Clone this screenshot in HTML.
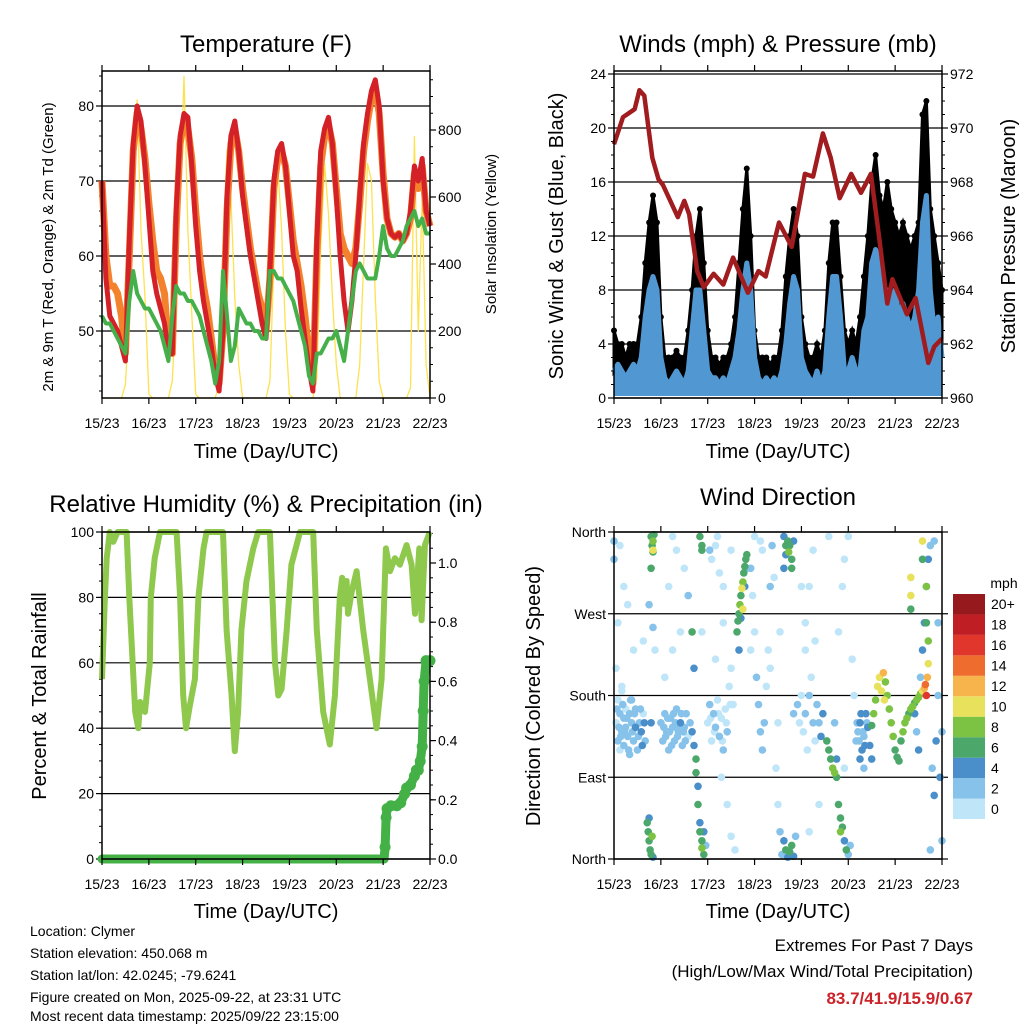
<!DOCTYPE html>
<html><head><meta charset="utf-8"><style>
html,body{margin:0;padding:0;background:#fff;}
svg{display:block;font-family:"Liberation Sans",Arial,sans-serif;}
</style></head><body>
<svg id="c" width="1024" height="1024" viewBox="0 0 1024 1024" xmlns="http://www.w3.org/2000/svg">
<rect x="0" y="0" width="1024" height="1024" fill="#fff"/>
<text x="266" y="52" font-size="24" text-anchor="middle">Temperature (F)</text>
<text x="778" y="52" font-size="24" text-anchor="middle">Winds (mph) &amp; Pressure (mb)</text>
<text x="266" y="512" font-size="24" text-anchor="middle">Relative Humidity (%) &amp; Precipitation (in)</text>
<text x="778" y="505" font-size="24" text-anchor="middle">Wind Direction</text>
<text x="266" y="458" font-size="20" text-anchor="middle">Time (Day/UTC)</text>
<text x="778" y="458" font-size="20" text-anchor="middle">Time (Day/UTC)</text>
<text x="266" y="918" font-size="20" text-anchor="middle">Time (Day/UTC)</text>
<text x="778" y="918" font-size="20" text-anchor="middle">Time (Day/UTC)</text>
<text transform="translate(53,247) rotate(-90)" font-size="15" text-anchor="middle">2m &amp; 9m T (Red, Orange) &amp; 2m Td (Green)</text>
<text transform="translate(496,234) rotate(-90)" font-size="15" text-anchor="middle">Solar Insolation (Yellow)</text>
<text transform="translate(563,236) rotate(-90)" font-size="20" text-anchor="middle">Sonic Wind &amp; Gust (Blue, Black)</text>
<text transform="translate(1015,236) rotate(-90)" font-size="20" text-anchor="middle">Station Pressure (Maroon)</text>
<text transform="translate(46,696) rotate(-90)" font-size="20" text-anchor="middle">Percent &amp; Total Rainfall</text>
<text transform="translate(540,696) rotate(-90)" font-size="20" text-anchor="middle">Direction (Colored By Speed)</text>
<g font-size="14">
<text x="30" y="936">Location: Clymer</text>
<text x="30" y="958">Station elevation: 450.068 m</text>
<text x="30" y="980">Station lat/lon: 42.0245; -79.6241</text>
<text x="30" y="1002">Figure created on Mon, 2025-09-22, at 23:31 UTC</text>
<text x="30" y="1024" dy="-3">Most recent data timestamp: 2025/09/22 23:15:00</text>
</g>
<text x="973" y="951" font-size="17" text-anchor="end">Extremes For Past 7 Days</text>
<text x="973" y="977" font-size="17" text-anchor="end">(High/Low/Max Wind/Total Precipitation)</text>
<text x="973" y="1004" font-size="17" font-weight="bold" fill="#cc2229" text-anchor="end">83.7/41.9/15.9/0.67</text>
</svg>
<script>
// ---------- DATA ----------
const dayLabels = ["15/23","16/23","17/23","18/23","19/23","20/23","21/23","22/23"];
// 2-hourly series, h = 0..168
const tempRed = [70,57,52,51,50,48,46,62,75,80, 78,72,65,58,55,53,51,47,47,66, 76,79,78.5,72,64,58,54,51,48,44, 42,50,68,76,78,74,68,64,60,57, 54,51,49,58,70,74,75,72,66,60, 58,53,49,45,42,62,74,77,78.5,75, 68,60,54,50,54,60,68,75,79,82, 83.5,80,70,65,63,62.5,63,62,63,66, 72,70,73,66,64];
const tempOrange = [70,60,56,56,55,52,47,60,74,79, 77,73,67,62,58,57,55,48,47,64, 75,78,77,73,66,60,56,53,49,45, 43,50,66,75,77,74,69,65,61,58, 55,53,50,57,69,73,74,72,67,62, 59,56,52,47,43,60,72,76,77.5,75, 69,63,61,60,59,61,67,74,78,81, 82.5,79,71,65,63,62.5,63,62,63,65, 71,69,72,66,64];
const dewGreen = [52,51,51,50,49,48,47,54,58,55, 54,53,53,52,51,50,48,46,52,56, 55,55,54,54,53,52,50,48,46,43, 46,58,52,46,48,53,52,51,51,50, 50,49,49,58,58,57,57,56,55,54, 52,50,48,44,43,47,47,48,49,49, 50,48,46,50,54,58,59,58,57,57, 57,60,64,61,60,60,61,62,64,65, 66,64,65,63,63];
const solar = [0,0,0,0,0,0,40,250,600,890, 500,300,10,0,0,0,0,0,50,300, 600,960,500,250,10,0,0,0,0,0, 40,450,740,600,300,100,0,0,0,0, 0,0,0,50,400,700,500,200,10,0, 0,0,0,0,0,60,450,700,550,300, 100,0,0,0,0,0,100,400,700,650, 300,50,0,0,0,0,0,0,0,30, 780,200,600,100,0];
const windSpeed = [2,2.5,2,1.5,2,2.5,2,3,6,8, 9,8,3,1.5,1,1.5,2,1.5,1,2, 5,8,8,5,2,1.5,1.5,1,1.5,1, 2,3,5,8,10,8,3,1.5,1,1.5, 1,1.5,1,2,4,7,9,8,3,2, 1.5,1,2,1,2,6,9,9,6,2, 2,3,2,2,5,6,10,11,10,8, 8,7,8,6,7,6,5,6,8,13, 15,8,5,6,3];
const windGust = [5,4,4,3,4,4,4,6,10,13, 15,13,6,3,3,3,3.5,3,3,5, 8,12,14,10,5,3,3,2.5,3,3, 4,6,10,14,17,12,5,3,3,3, 2.5,3,3,5,9,12,14,12,6,4, 3,3,4,3,5,10,13,13,9,5, 4,5,4,6,9,12,16,18,15,14, 16,14,13,12,13,12,11,12,13,21, 22,14,12,10,8];
const presHours = [0,4.6,10.6,13,15.5,19.6,22.8,25,32.7,36,38.5,42.6,46,51,56,61,68.6,74,77.7,84.5,91,97.8,102,107,111,115.6,121.5,126.5,131.6,135.9,140,142.6,150,154.5,161,164,168];
const presValues = [969.4,970.4,970.7,971.4,971.2,968.9,968.1,967.9,966.7,967.3,966.8,964.7,964.1,964.6,964.2,965.2,963.9,964.7,964.5,966.5,965.6,968.3,968.2,969.8,968.9,967.4,968.3,967.6,968.3,965.9,963.5,964.4,963.1,963.7,961.3,961.9,962.2];
const rhHours = [0,1.5,2.4,4,5.8,8,12.6,14,17,18.6,19.5,22,24.5,25,27,29.7,38.2,40,41.6,43,45,47.6,49.4,52,53.6,62,63.8,66.4,68,69.7,71.4,74,77.5,80,86,88.6,90.3,92,94.6,97,101.4,108.2,110,113.3,116.7,119.3,121.8,123,124,125.3,126,128,130.4,133.8,137.2,140.6,143.2,145.4,147.5,150,152.6,156,158.6,160.3,162.5,163.7,165.4,167.9];
const rhValues = [55,80,92,100,97,100,100,80,45,40,48,45,60,80,92,100,100,80,50,40,47,55,80,95,100,100,70,50,33,45,70,85,95,100,100,60,50,52,70,90,100,100,70,45,35,50,80,86,78,85,75,82,88,70,55,40,55,95,88,92,90,96,90,75,95,73,96,100];
const rainHours = [0,144.5,145,145.5,146,148,151,153,155,156,158,160,161,162,163,164,164.5,165,166,168];
const rainValues = [0,0,0.04,0.14,0.17,0.18,0.18,0.19,0.22,0.24,0.25,0.28,0.30,0.30,0.33,0.38,0.50,0.60,0.67,0.67];
const dirTime = [1,2,2,3,3,4,4,5,5,6,6,7,8,8,9,9,10,11,11,12,13,14,15,16, 0,0,3,5,7,10,1,2,4,
 19,19.5,20,20,20.5,19,20, 17,17.5,18,18.5,19,19.5,18,20, 19,18,20,21,
 24,25,26,27,28,29,30,31,32,33,34,35,36,37,38,39, 26,30,34,28,32,38,36,
 40,41,42,42,43,43,44,44,45,45,46,46,47, 44,45,45,40,41,
 48,49,50,51,52,53,54,55,56,57,58,59,60,61, 50,52,54,56,49,53,58,60,62,55,
 63,63.5,64,64.5,65,65.5,66,66.5,67,67.5,68,66,65,67,68,64,
 70,71,72,73,74,75,76,77,78,79,80,81,82,83,84,85,86,72,76,80,84,
 87,88,89,89.5,90,91,91,92,87,88, 87,88,89,90,91,92,93, 92,94,95,96,
 97,98,99,100,101,102,103,104,105,106,107,98,100,103,105,100,
 109,110,111,112,113,114,115,116,117,118,119,116,114,113,120,121,118,
 115,117,118,120,122,123,124,125,126,127,128,129,130,131,126,128,132,
 132,133,134,135,136,137,138,138.5,139,140,141,142,143,144,145,146,147,148,149,150,151,152,153,154,155,156,157,158,159,159.5,160,160.5,161,161,160,160,158,158,152,152,152,
 154,155,156,157,158,159,160,161,162,163,164,165,166,167,168,164,166,162,168,
 1.5,2.5,3.5,4.5,5.5,6.5,7.5,8.5,9.5,10.5,12.5,13.5,14.5,15.5,
 25.5,26.5,27.5,28.5,29.5,30.5,31.5,32.5,33.5,34.5,35.5,36.5,
 49.5,51.5,53.5,55.5,57.5,59.5,52,56,
 124.5,125.5,126.5,127.5,128.5,129.5,
 30,60,75,96,102,110,85,45,15,70,98];
const dirDeg = [150,130,175,160,120,140,185,155,125,165,145,135,160,115,150,175,130,145,165,120,150,140,160,130, 350,330,345,300,280,230,210,260,190,
 355,345,350,338,357,320,340, 40,30,20,10,5,25,45,2, 150,280,255,230,
 150,130,160,140,120,155,145,130,165,140,150,125,145,160,135,150, 200,230,250,300,340,290,320,
 140,125,110,95,80,60,40,30,20,12,5,30,15, 355,345,340,250,210,
 150,170,130,160,145,175,135,155,120,165,140,190,210,170, 330,345,315,300,340,355,60,25,10,90,
 250,262,270,280,290,298,305,315,322,330,335,275,265,300,320,230,
 320,290,250,200,170,140,120,150,190,230,300,345,310,100,60,30,5,355,340,210,150,
 355,345,350,338,345,330,320,350,320,335, 20,10,2,8,15,3,25, 160,170,150,180,
 140,160,120,180,200,150,130,170,150,135,160,260,300,240,60,30,
 130,120,110,100,95,90,60,45,35,20,10,30,110,150,5,15,100,
 250,300,330,355,220,180,130,140,150,120,135,160,145,125,110,100,110,
 147,160,175,190,200,185,205,175,195,180,165,150,135,120,112,108,130,140,150,155,160,165,168,172,175,178,182,185,188,192,180,200,215,240,260,300,330,350,310,290,275,
 160,140,120,200,230,260,300,330,345,100,70,130,180,90,140,350,260,10,20,
 165,145,135,170,140,155,120,175,140,160,135,165,125,150,
 145,135,155,140,125,160,150,135,145,160,140,130,
 155,140,160,130,150,170,220,260,
 150,130,160,140,125,150,
 355,340,350,300,340,355,250,250,240,230,230];
const dirSpeed = [1,2,1,2,1,2,1,2,2,1,2,2,3,2,3,2,3,4,3,2,3,4,1,2, 2,3,1,1,1,1,1,1,1,
 6,7,8,7,6,7,10, 7,6,7,6,7,8,5,4, 4,2,2,1,
 2,2,3,2,3,2,3,2,3,2,4,3,2,2,1,2, 1,1,1,1,1,2,1,
 5,4,6,6,5,6,4,6,7,8,6,4,3, 6,7,6,6,4,
 1,2,1,2,2,1,2,1,2,1,2,1,1,1, 1,1,1,1,2,1,1,1,1,1,
 6,7,6,8,7,10,8,7,6,7,6,10,4,4,3,4,
 2,1,1,2,3,3,2,2,1,1,2,3,1,1,1,2,3,1,1,1,1,
 4,6,7,8,7,6,6,5,4,4, 4,6,5,6,7,4,3, 2,2,1,1,
 1,2,1,2,1,2,1,2,3,4,4,1,1,1,1,1,
 6,7,6,8,9,7,7,6,6,5,6,8,4,3,3,2,1,
 1,1,1,1,1,1,2,3,4,4,3,4,5,5,4,2,4,
 7,8,8,10,10,11,12,10,8,9,8,8,8,7,7,6,7,8,9,8,7,8,8,7,8,9,8,10,12,14,17,12,10,8,6,9,6,10,10,11,6,
 4,3,4,3,4,4,5,4,3,3,5,4,3,4,3,2,3,2,2,
 2,3,2,3,3,2,3,2,2,2,3,3,4,4,
 3,2,3,2,3,2,3,2,3,2,3,2,
 1,1,1,1,1,1,1,1,
 3,3,4,3,4,3,
 1,1,1,1,1,1,1,1,1,1,1];
const speedBins = ["0","2","4","6","8","10","12","14","16","18","20+"];
const speedColors = ["#bfe5f9","#86c2ea","#4a8fc9","#4ba86a","#7cc243","#e8e15c","#f7b44c","#ef6c2f","#e0362b","#c01e25","#961a1d"];

// ---------- HELPERS ----------
const NS = "http://www.w3.org/2000/svg";
const svg = document.getElementById("c");
function el(tag, attrs, parent) {
  const e = document.createElementNS(NS, tag);
  for (const k in attrs) e.setAttribute(k, attrs[k]);
  (parent || svg).appendChild(e);
  return e;
}
function hx(L, h) { return L + h / 168 * 328; }
const T1 = v => 106 + (80 - v) * 7.5;
const S1 = v => 398 - v * 0.335;
const W2 = v => 398 - v * 13.5;
const P2 = v => 398 - (v - 960) * 27;
const R3 = v => 859 - v * 3.27;
const Pr3 = v => 859 - v * 296;
const D4 = v => 859 - v * 327 / 360;

function frame(L, T, name) {
  const g = el("g", {});
  
  
  return g;
}
function xAxis(L, T, B, g) {
  dayLabels.forEach((lab, i) => {
    const x = L + i * 328 / 7;
    const t1 = el("line", {x1: x, y1: B, x2: x, y2: B + 6, stroke: "#000", "stroke-width": 1.2}, g);
    
    
    const t2 = el("line", {x1: x, y1: T, x2: x, y2: T - 6, stroke: "#000", "stroke-width": 1.2}, g);
    
    
    const tx = el("text", {x: x, y: B + 30, "font-size": 14, "text-anchor": "middle"}, g);
    tx.textContent = lab;
    
    
  });
}
function yAxis(L, R, T, B, g, scale, majors, minors, labels, side, grid) {
  majors.forEach((v, i) => {
    const y = scale(v);
    if (grid) {
      const gl = el("line", {x1: L, y1: y, x2: R, y2: y, stroke: "#000", "stroke-width": 1.2}, g);
      
      
    }
    const x0 = side === "left" ? L : R;
    const d = side === "left" ? -6 : 6;
    const tk = el("line", {x1: x0, y1: y, x2: x0 + d, y2: y, stroke: "#000", "stroke-width": 1.2}, g);
    
    
    const tx = el("text", {x: side === "left" ? x0 - 8 : x0 + 8, y: y + 5, "font-size": 14, "text-anchor": side === "left" ? "end" : "start"}, g);
    tx.textContent = labels[i];
    
    
  });
  minors.forEach(v => {
    const y = scale(v);
    const x0 = side === "left" ? L : R;
    const d = side === "left" ? -3 : 3;
    const tk = el("line", {x1: x0, y1: y, x2: x0 + d, y2: y, stroke: "#000", "stroke-width": 1}, g);
    
    
  });
}
function border(L, T, R, B, g) {
  const r = el("rect", {x: L, y: T, width: R - L, height: B - T, fill: "none", stroke: "#000", "stroke-width": 1.5}, g);
  
  
}
function range(a, b, s) { const o = []; for (let v = a; v <= b + 1e-9; v += s) o.push(+v.toFixed(3)); return o; }
function pts2h(arr, L, sc) { return arr.map((v, i) => hx(L, i * 2).toFixed(1) + "," + sc(v).toFixed(1)).join(" "); }

// ---------- PANEL 1: TEMPERATURE ----------
(function () {
  const L = 102, T = 71, R = 430, B = 398;
  const g = frame(L, T, "temperature-panel");
  yAxis(L, R, T, B, g, T1, [50,60,70,80], range(42,84,2), ["50","60","70","80"], "left", true);
  yAxis(L, R, T, B, g, S1, [0,200,400,600,800], range(0,950,50), ["0","200","400","600","800"], "right", false);
  const sl = el("polyline", {points: pts2h(solar, L, S1), fill: "none", stroke: "#fde24f", "stroke-width": 1.3, "stroke-linejoin": "round"}, g);
  
  
  const ol = el("polyline", {points: pts2h(tempOrange, L, T1), fill: "none", stroke: "#f4812c", "stroke-width": 7, "stroke-linejoin": "round"}, g);
  
  
  const rl = el("polyline", {points: pts2h(tempRed, L, T1), fill: "none", stroke: "#d42127", "stroke-width": 5, "stroke-linejoin": "round"}, g);
  
  
  const gl = el("polyline", {points: pts2h(dewGreen, L, T1), fill: "none", stroke: "#45b04a", "stroke-width": 4, "stroke-linejoin": "round"}, g);
  
  
  border(L, T, R, B, g);
  xAxis(L, T, B, g);
})();

// ---------- PANEL 2: WINDS ----------
(function () {
  const L = 614, T = 71, R = 942, B = 398;
  const g = frame(L, T, "winds-panel");
  yAxis(L, R, T, B, g, W2, [0,4,8,12,16,20,24], range(0,24,1), ["0","4","8","12","16","20","24"], "left", true);
  yAxis(L, R, T, B, g, P2, [960,962,964,966,968,970,972], range(960,972,0.5), ["960","962","964","966","968","970","972"], "right", false);
  const top = windGust.map((v, i) => hx(L, i * 2).toFixed(1) + "," + W2(v).toFixed(1));
  const bot = windSpeed.map((v, i) => hx(L, i * 2).toFixed(1) + "," + W2(v).toFixed(1)).reverse();
  const gf = el("polygon", {points: top.concat(bot).join(" "), fill: "#000", stroke: "#000", "stroke-width": 3}, g);
  
  
  windGust.forEach((v, i) => {
    const c = el("circle", {cx: hx(L, i * 2), cy: W2(v), r: 3, fill: "#000"}, g);
    
    
  });
  const wf = el("polygon", {points: windSpeed.map((v, i) => hx(L, i * 2).toFixed(1) + "," + W2(v).toFixed(1)).join(" ") + " " + hx(L,168) + "," + (B-2) + " " + L + "," + (B-2), fill: "#5198d3"}, g);
  
  
  const wl = el("polyline", {points: pts2h(windSpeed, L, W2), fill: "none", stroke: "#5198d3", "stroke-width": 5, "stroke-linejoin": "round"}, g);
  
  
  const pl = el("polyline", {points: presHours.map((h, i) => hx(L, h).toFixed(1) + "," + P2(presValues[i]).toFixed(1)).join(" "), fill: "none", stroke: "#a01c1f", "stroke-width": 4.5, "stroke-linejoin": "round"}, g);
  
  
  const dl = el("line", {x1: L, y1: T + 3, x2: R, y2: T + 3, stroke: "#000", "stroke-width": 1}, g);
  
  
  border(L, T, R, B, g);
  xAxis(L, T, B, g);
})();

// ---------- PANEL 3: RH & PRECIP ----------
(function () {
  const L = 102, T = 532, R = 430, B = 859;
  const g = frame(L, T, "humidity-panel");
  yAxis(L, R, T, B, g, R3, [0,20,40,60,80,100], range(0,100,5), ["0","20","40","60","80","100"], "left", true);
  yAxis(L, R, T, B, g, Pr3, [0,0.2,0.4,0.6,0.8,1.0], range(0,1.1,0.05), ["0.0","0.2","0.4","0.6","0.8","1.0"], "right", false);
  const rl = el("polyline", {points: rhHours.map((h, i) => hx(L, h).toFixed(1) + "," + R3(rhValues[i]).toFixed(1)).join(" "), fill: "none", stroke: "#8ec84c", "stroke-width": 6, "stroke-linejoin": "round"}, g);
  
  
  const pl = el("polyline", {points: rainHours.map((h, i) => hx(L, h).toFixed(1) + "," + Pr3(rainValues[i]).toFixed(1)).join(" "), fill: "none", stroke: "#44b147", "stroke-width": 9, "stroke-linejoin": "round", "stroke-linecap": "round"}, g);
  
  
  rainHours.forEach((h, i) => {
    if (rainValues[i] <= 0) return;
    const c = el("circle", {cx: hx(L, h), cy: Pr3(rainValues[i]), r: 5.5, fill: "#44b147"}, g);
    
    
  });
  border(L, T, R, B, g);
  xAxis(L, T, B, g);
})();

// ---------- PANEL 4: WIND DIRECTION ----------
(function () {
  const L = 614, T = 532, R = 942, B = 859;
  const g = frame(L, T, "direction-panel");
  yAxis(L, R, T, B, g, D4, [0,90,180,270,360], [], ["North","East","South","West","North"], "left", true);
  yAxis(L, R, T, B, g, D4, [0,90,180,270,360], [], ["","","","",""], "right", false);
  const order = dirTime.map((h, i) => i).sort((a, b) => dirSpeed[a] - dirSpeed[b]);
  order.forEach(i => {
    const h = dirTime[i];
    const k = Math.min(10, Math.floor(dirSpeed[i] / 2));
    const c = el("circle", {cx: hx(L, h).toFixed(1), cy: D4(dirDeg[i]).toFixed(1), r: 3.8, fill: speedColors[k]}, g);
    
    
  });
  border(L, T, R, B, g);
  xAxis(L, T, B, g);
  // colorbar
  const cb = el("g", {}, svg);
  
  
  const bh = 225 / 11;
  speedBins.forEach((lab, i) => {
    const y = 819 - (i + 1) * bh;
    const r = el("rect", {x: 953, y: y, width: 32, height: bh, fill: speedColors[i]}, cb);
    
    
    const t = el("text", {x: 991, y: y + bh / 2 + 5, "font-size": 14}, cb);
    t.textContent = lab;
    
    
  });
  const mt = el("text", {x: 1004, y: 588, "font-size": 14, "text-anchor": "middle"}, cb);
  mt.textContent = "mph";
  
  
})();
</script>
</body></html>
